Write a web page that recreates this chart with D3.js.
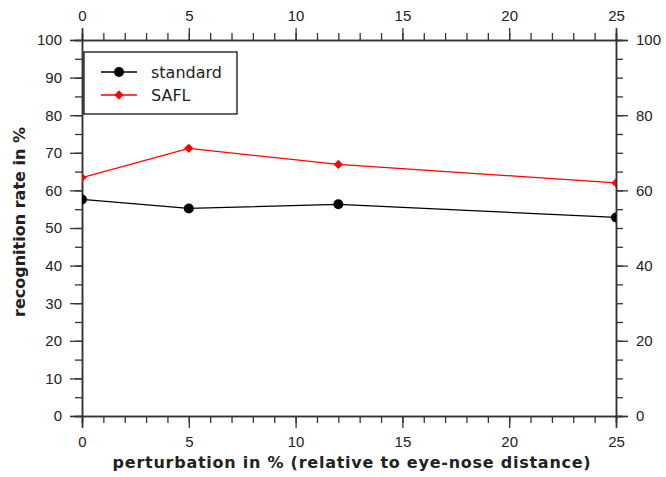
<!DOCTYPE html>
<html>
<head>
<meta charset="utf-8">
<script src="https://cdn.jsdelivr.net/npm/d3@7"></script>
<style>
  body { margin: 0; background: #fff; }
  svg { display: block; font-family: "DejaVu Sans", sans-serif; }
</style>
</head>
<body>
<div id="chart"></div>
<script>
// data
const perturbation = [0, 5, 12, 25];
const standardRate = [57.6, 55.2, 56.3, 52.8];
const saflRate = [63.4, 71.2, 66.9, 62.0];
const seriesNames = ["standard", "SAFL"];

const width = 666, height = 477;
const margin = { top: 40, right: 50, bottom: 61, left: 82 };
const plotW = width - margin.left - margin.right;
const plotH = height - margin.top - margin.bottom;
const axisColor = "#333";
const textColor = "#222";

const svg = d3.select("#chart")
    .append("svg")
    .attr("width", width)
    .attr("height", height);

const g = svg.append("g")
    .attr("transform", `translate(${margin.left},${margin.top})`);

const x = d3.scaleLinear().domain([0, 25]).range([0, plotW]);
const y = d3.scaleLinear().domain([0, 100]).range([plotH, 0]);

// clip so the edge markers get cut like the original
svg.append("defs").append("clipPath")
    .attr("id", "plotclip")
    .append("rect")
    .attr("width", plotW)
    .attr("height", plotH);

const styleAxis = sel => {
    sel.select(".domain").attr("stroke", axisColor).attr("stroke-width", 1.5);
    sel.selectAll(".tick line").attr("stroke", axisColor).attr("stroke-width", 1.3);
    sel.selectAll(".tick text").attr("fill", textColor).style("font-size", "15px");
};

// bottom (minor, then major)
g.append("g")
    .attr("transform", `translate(0,${plotH})`)
    .call(d3.axisBottom(x).tickValues(d3.range(0, 26, 1)).tickSize(7).tickFormat(""))
    .call(styleAxis);
g.append("g")
    .attr("transform", `translate(0,${plotH})`)
    .call(d3.axisBottom(x).tickValues(d3.range(0, 26, 5)).tickSize(12).tickPadding(8))
    .call(styleAxis);

// top
g.append("g")
    .call(d3.axisTop(x).tickValues(d3.range(0, 26, 1)).tickSize(7).tickFormat(""))
    .call(styleAxis);
g.append("g")
    .call(d3.axisTop(x).tickValues(d3.range(0, 26, 5)).tickSize(12).tickPadding(7))
    .call(styleAxis);

// left
g.append("g")
    .call(d3.axisLeft(y).tickValues(d3.range(0, 101, 5)).tickSize(7).tickFormat(""))
    .call(styleAxis);
g.append("g")
    .call(d3.axisLeft(y).tickValues(d3.range(0, 101, 10)).tickSize(12).tickPadding(8))
    .call(styleAxis);

// right
g.append("g")
    .attr("transform", `translate(${plotW},0)`)
    .call(d3.axisRight(y).tickValues(d3.range(0, 101, 5)).tickSize(7).tickFormat(""))
    .call(styleAxis);
g.append("g")
    .attr("transform", `translate(${plotW},0)`)
    .call(d3.axisRight(y).tickValues(d3.range(0, 101, 20)).tickSize(12).tickPadding(8))
    .call(styleAxis);

// axis titles
svg.append("text")
    .attr("x", margin.left + plotW / 2 + 3)
    .attr("y", 468)
    .attr("text-anchor", "middle")
    .attr("fill", textColor)
    .style("font-size", "16px")
    .style("font-weight", "bold")
    .style("letter-spacing", "0.75px")
    .text("perturbation in % (relative to eye-nose distance)");

svg.append("text")
    .attr("transform", `translate(25,222) rotate(-90)`)
    .attr("text-anchor", "middle")
    .attr("fill", textColor)
    .style("font-size", "16px")
    .style("font-weight", "bold")
    .text("recognition rate in %");

// lines + markers
const plot = g.append("g").attr("clip-path", "url(#plotclip)");

const line = d3.line()
    .x(d => x(d[0]))
    .y(d => y(d[1]));

const stdData = perturbation.map((p, i) => [p, standardRate[i]]);
const saflData = perturbation.map((p, i) => [p, saflRate[i]]);

plot.append("path")
    .datum(stdData)
    .attr("fill", "none")
    .attr("stroke", "#000")
    .attr("stroke-width", 1.3)
    .attr("d", line);

plot.append("path")
    .datum(saflData)
    .attr("fill", "none")
    .attr("stroke", "#f00")
    .attr("stroke-width", 1.3)
    .attr("d", line);

const circleSym = d3.symbol().type(d3.symbolCircle).size(Math.PI * 25);
const diamondSym = d3.symbol().type(d3.symbolDiamond2).size(55);

plot.selectAll(".std-pt")
    .data(stdData)
    .join("path")
    .attr("class", "std-pt")
    .attr("transform", d => `translate(${x(d[0])},${y(d[1])})`)
    .attr("d", circleSym)
    .attr("fill", "#000");

plot.selectAll(".safl-pt")
    .data(saflData)
    .join("path")
    .attr("class", "safl-pt")
    .attr("transform", d => `translate(${x(d[0])},${y(d[1])})`)
    .attr("d", diamondSym)
    .attr("fill", "#f00");

// legend
const legend = svg.append("g").attr("transform", "translate(84,52)");
legend.append("rect")
    .attr("width", 153)
    .attr("height", 62)
    .attr("fill", "#fff")
    .attr("stroke", "#000")
    .attr("stroke-width", 1.2);

const legendColors = ["#000", "#f00"];
const legendSyms = [circleSym, diamondSym];
seriesNames.forEach((name, i) => {
    const ly = 20 + i * 23;
    legend.append("line")
        .attr("x1", 17).attr("x2", 53)
        .attr("y1", ly).attr("y2", ly)
        .attr("stroke", legendColors[i])
        .attr("stroke-width", 1.3);
    legend.append("path")
        .attr("transform", `translate(35,${ly})`)
        .attr("d", legendSyms[i])
        .attr("fill", legendColors[i]);
    legend.append("text")
        .attr("x", 67)
        .attr("y", ly)
        .attr("dy", "0.35em")
        .attr("fill", textColor)
        .style("font-size", "16px")
        .text(name);
});
</script>
</body>
</html>
